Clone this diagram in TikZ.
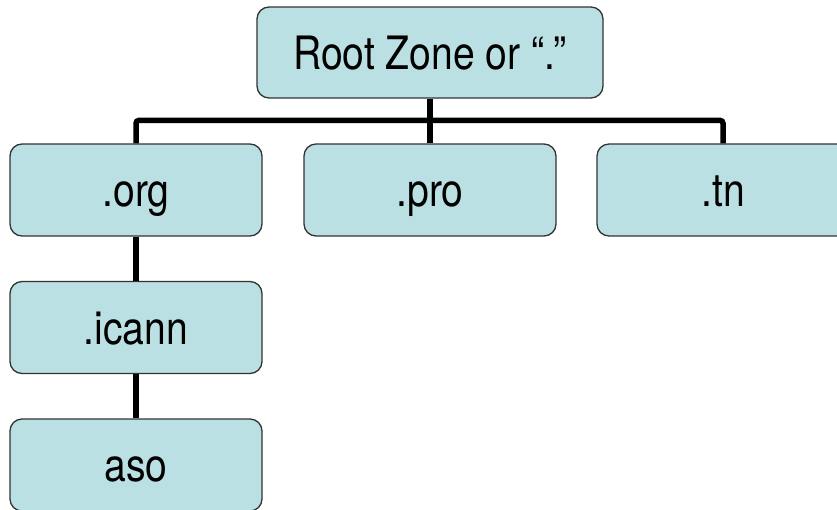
\documentclass[tikz,border=0pt]{standalone}
\usepackage{fontspec}
\setmainfont{TeX Gyre Heros}[FakeStretch=0.85]
\begin{document}
\begin{tikzpicture}[x=1pt,y=-1pt,
  zone/.style={draw=black!80, line width=1.3pt, fill=zonefill, rounded corners=12pt,
    minimum width=252pt, minimum height=92pt, inner sep=0pt,
    font=\fontsize{46}{46}\selectfont, text height=33pt, text depth=0pt},
  link/.style={line width=5.5pt, black, rounded corners=3pt}]
\definecolor{zonefill}{RGB}{186,224,227}
\clip (0,0) rectangle (837,509);
% tree nodes
\node[zone, minimum width=346pt, minimum height=91pt] (root) at (430,52.5) {Root Zone or “.”};
\node[zone] (org) at (136,190) {.org};
\node[zone] (pro) at (430,190) {.pro};
\node[zone] (tn) at (723,190) {.tn};
\node[zone] (icann) at (136,327.5) {.icann};
\node[zone] (aso) at (136,465) {aso};
% connectors
\draw[link] (org.north) -- ++(0,-23) -| (tn.north);
\draw[link] (root.south) -- (pro.north);
\draw[link] (org.south) -- (icann.north);
\draw[link] (icann.south) -- (aso.north);
\end{tikzpicture}
\end{document}
